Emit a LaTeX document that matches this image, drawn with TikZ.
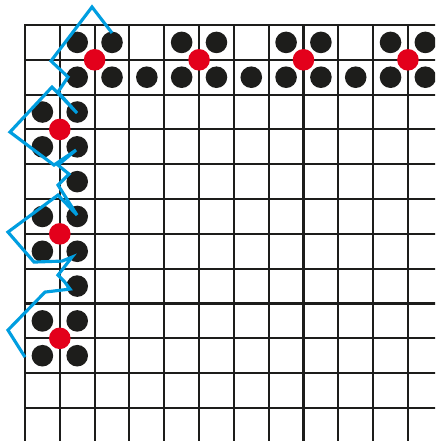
\documentclass[tikz,border=0pt]{standalone}
\usetikzlibrary{calc}

\definecolor{inkblack}{HTML}{1D1D1B}
\definecolor{inkred}{HTML}{E3001B}
\definecolor{inkblue}{HTML}{009EE0}

\begin{document}
\begin{tikzpicture}[
    x=1cm, y=-1cm,
    gridline/.style={draw=inkblack, line width=0.058cm, line cap=rect},
    site/.style={fill=inkblack},
    core/.style={fill=inkred},
    walk/.style={draw=inkblue, line width=0.09cm, line join=miter},
]

% === Frame ===
\useasboundingbox (-0.718,-0.718) rectangle (11.78,11.95);
\fill[white] (-0.718,-0.718) rectangle (11.78,11.95);
\clip (-0.718,-0.718) rectangle (11.78,11.95);

% === Lattice ===
\foreach \k in {0,...,11} {
    \draw[gridline] (\k,0) -- (\k,12.5);
    \draw[gridline] (0,\k) -- (12.5,\k);
}

% === Clusters: four sites round each core ===
\foreach \cx/\cy in {2/1, 5/1, 8/1, 11/1, 1/3, 1/6, 1/9} {
    \foreach \dx/\dy in {-0.5/-0.5, 0.5/-0.5, -0.5/0.5, 0.5/0.5}
        \fill[site] (\cx+\dx,\cy+\dy) circle (0.31);
    \fill[core] (\cx,\cy) circle (0.31);
}

% === Single sites between clusters ===
\foreach \sx/\sy in {3.5/1.5, 6.5/1.5, 9.5/1.5, 1.5/4.5, 1.5/7.5}
    \fill[site] (\sx,\sy) circle (0.31);

% === Walk ===
\draw[walk] (2.50,0.23) -- (1.925,-0.517) -- (0.747,1.034) -- (1.236,1.494)
    -- (0.948,1.925) -- (1.494,2.529) -- (0.776,1.782) -- (-0.431,3.075)
    -- (0.833,4.023) -- (1.466,3.592) -- (0.948,4.023) -- (1.264,4.282)
    -- (0.948,4.598) -- (1.494,5.460) -- (0.948,4.885) -- (-0.489,5.948)
    -- (0.259,6.810) -- (1.063,6.782) -- (1.351,6.667) -- (0.948,7.184)
    -- (1.121,7.356) -- (1.293,7.586) -- (0.575,7.672) -- (-0.489,8.764)
    -- (0,9.540);

\end{tikzpicture}
\end{document}
